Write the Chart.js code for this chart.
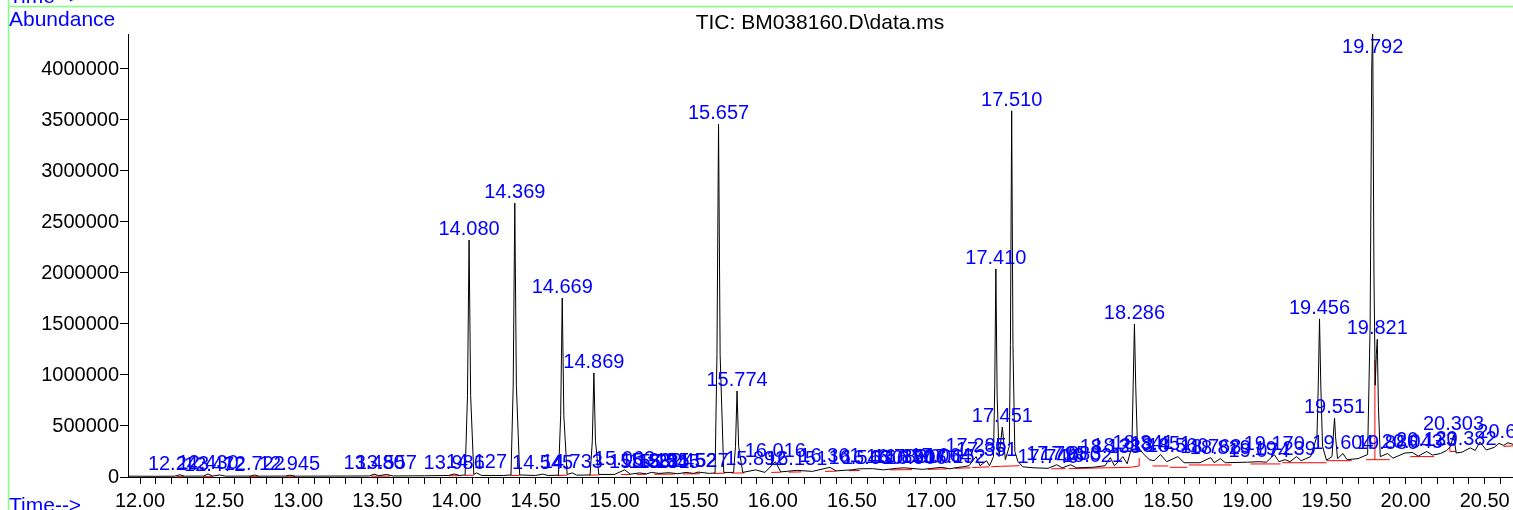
<!DOCTYPE html>
<html>
<head>
<meta charset="utf-8">
<script src="https://cdn.jsdelivr.net/npm/chart.js@4/dist/chart.umd.min.js"></script>
<style>
html,body{margin:0;padding:0;background:#fff;}
#wrap{width:1513px;height:510px;position:relative;overflow:hidden;}
</style>
</head>
<body>
<div id="wrap"><canvas id="c" width="1513" height="510"></canvas></div>
<script>
// ---- chromatogram trace (retention time, abundance) ----
const rt = [
11.924,12.10,12.22,12.252,12.28,12.40,12.430,12.46,12.504,12.54,
12.70,12.722,12.75,12.92,12.945,12.98,13.20,13.45,13.480,13.51,
13.557,13.60,13.80,13.95,13.986,14.02,14.055,14.070,14.080,14.090,
14.110,14.127,14.16,14.30,14.345,14.359,14.369,14.379,14.40,14.50,
14.545,14.58,14.645,14.659,14.669,14.679,14.70,14.733,14.76,14.845,
14.859,14.869,14.879,14.90,15.00,15.063,15.10,15.158,15.20,15.232,
15.281,15.345,15.40,15.452,15.50,15.527,15.60,15.635,15.647,15.657,
15.667,15.69,15.752,15.764,15.774,15.784,15.81,15.892,15.95,16.016,
16.05,16.151,16.25,16.361,16.40,16.50,16.546,16.63,16.70,16.783,
16.83,16.906,16.95,17.006,17.064,17.12,17.152,17.20,17.24,17.285,
17.31,17.351,17.37,17.395,17.403,17.410,17.418,17.43,17.451,17.47,
17.495,17.502,17.510,17.518,17.53,17.55,17.58,17.65,17.74,17.795,
17.83,17.883,17.92,18.021,18.10,18.133,18.16,18.213,18.24,18.270,
18.278,18.286,18.294,18.305,18.341,18.38,18.41,18.451,18.49,18.560,
18.60,18.70,18.768,18.79,18.829,18.86,19.00,19.074,19.12,19.170,
19.20,19.239,19.27,19.31,19.34,19.40,19.440,19.448,19.456,19.464,
19.475,19.50,19.535,19.545,19.551,19.557,19.57,19.604,19.63,19.70,
19.76,19.776,19.786,19.792,19.800,19.808,19.815,19.821,19.828,19.84,
19.886,19.92,19.996,20.043,20.08,20.133,20.17,20.22,20.26,20.285,
20.303,20.32,20.36,20.382,20.41,20.44,20.47,20.51,20.56,20.59,
20.62,20.647,20.679
];
const abundance = [
8000,7000,8000,22000,8000,9000,30000,9000,20000,8000,
9000,20000,8000,9000,18000,8000,9000,10000,28000,12000,
25000,10000,12000,15000,30000,15000,20000,800000,2323000,800000,
25000,40000,15000,15000,20000,900000,2686000,900000,20000,15000,
28000,15000,18000,600000,1755000,600000,25000,40000,18000,20000,
350000,1020000,350000,25000,25000,70000,28000,40000,30000,45000,
35000,42000,32000,45000,35000,48000,35000,40000,1200000,3460000,
1200000,45000,45000,300000,843000,300000,45000,70000,45000,150000,
50000,65000,55000,95000,60000,70000,80000,82000,70000,85000,
90000,80000,75000,85000,95000,80000,90000,100000,110000,200000,
110000,160000,110000,200000,900000,2040000,800000,200000,490000,170000,
300000,1300000,3590000,1300000,250000,150000,100000,90000,85000,120000,
90000,120000,90000,95000,110000,190000,110000,200000,130000,300000,
900000,1500000,900000,300000,230000,170000,160000,220000,150000,200000,
140000,140000,190000,140000,180000,140000,145000,150000,145000,220000,
150000,170000,150000,200000,160000,200000,400000,900000,1550000,900000,
300000,165000,200000,450000,578000,400000,180000,230000,170000,180000,
220000,1500000,4000000,4450000,2000000,900000,1200000,1350000,700000,200000,
230000,185000,235000,240000,205000,250000,215000,230000,260000,300000,
412000,235000,245000,265000,285000,260000,343000,265000,290000,330000,
310000,335000,320000
];

// ---- integration baselines (red) ----
const baseStartRt = [12.23,12.40,12.69,12.92,13.46,13.95,14.055,14.34,14.64,14.84,15.04,15.14,15.25,15.43,15.63,15.74,15.99,16.10,16.33,16.48,16.74,16.98,17.15,17.26,17.38,17.44,17.76,17.87,18.26,18.316,18.40,18.51,18.63,19.02,19.22,19.50,19.75,19.806,20.03,20.28,20.28,20.62];
const baseStartAb = [6000,6000,6000,7000,8000,12000,15000,14000,14000,18000,24000,26000,27000,30000,34000,38000,45000,48000,55000,62000,70000,75000,85000,92000,100000,105000,80000,82000,95000,108000,108000,95000,118000,128000,140000,160000,170000,170000,200000,250000,250000,300000];
const baseEndRt = [12.28,12.46,12.75,12.98,13.58,14.02,14.11,14.40,14.70,14.90,15.10,15.20,15.38,15.54,15.70,15.82,16.05,16.18,16.40,16.55,16.88,17.10,17.25,17.37,17.44,17.56,17.85,18.26,18.316,18.316,18.50,18.62,18.90,19.21,19.50,19.66,19.90,19.806,20.18,20.32,20.28,20.68];
const baseEndAb = [6000,6000,6000,7000,9000,13000,18000,16000,18000,20000,25000,27000,29000,32000,38000,40000,47000,50000,57000,64000,72000,80000,90000,100000,105000,110000,82000,95000,108000,186000,108000,95000,118000,128000,140000,160000,170000,1147000,200000,250000,333000,305000];

// ---- peak labels (retention time text) and apex abundance ----
const peakLabels = ["12.243","12.430","12.472","12.722","12.945","13.480","13.557","13.986","14.080","14.127","14.369","14.545","14.669","14.733","14.869","15.063","15.158","15.232","15.281","15.345","15.452","15.527","15.657","15.774","15.892","16.016","16.151","16.361","16.546","16.630","16.783","16.830","16.906","17.006","17.064","17.152","17.285","17.351","17.410","17.451","17.510","17.740","17.795","17.883","18.021","18.133","18.213","18.286","18.341","18.451","18.560","18.768","18.829","19.074","19.170","19.239","19.456","19.551","19.604","19.792","19.821","19.886","20.043","20.133","20.303","20.382","20.647"];
const labelHeights = [22000,30000,12000,20000,18000,28000,25000,30000,2323000,40000,2686000,28000,1755000,40000,1020000,70000,40000,45000,35000,42000,45000,48000,3460000,843000,70000,150000,65000,95000,80000,82000,85000,90000,80000,85000,95000,90000,200000,160000,2040000,490000,3590000,85000,120000,120000,95000,190000,200000,1500000,230000,220000,200000,190000,180000,150000,220000,170000,1550000,578000,230000,4450000,1350000,230000,240000,250000,412000,265000,335000];

// ---- axes ----
const xMin = 11.924, xMax = 20.679;
const yMin = 0, yMax = 4343000;
const xTickStart = 12.0, xTickEnd = 20.6, xTickStep = 0.1;
const yTickValues = [0,500000,1000000,1500000,2000000,2500000,3000000,3500000,4000000];
const titleText = "TIC: BM038160.D\\data.ms";
const yAxisTitle = "Abundance";
const xAxisTitle = "Time-->";

const FONT = "'Liberation Sans', Arial, sans-serif";
Chart.defaults.font.family = FONT;

const traceData = rt.map((t, i) => ({x: t, y: abundance[i]}));
const baseData = [];
baseStartRt.forEach((t, i) => {
  baseData.push({x: t, y: baseStartAb[i]});
  baseData.push({x: baseEndRt[i], y: baseEndAb[i]});
  baseData.push({x: baseEndRt[i], y: null});
});

const decor = {
  id: 'decor',
  beforeDraw(chart) {
    const ctx = chart.ctx;
    ctx.save();
    ctx.fillStyle = '#fff';
    ctx.fillRect(0, 0, chart.width, chart.height);
    ctx.strokeStyle = '#80ff80';
    ctx.lineWidth = 1.5;
    ctx.beginPath();
    ctx.moveTo(8.5, 6.5); ctx.lineTo(chart.width, 6.5);
    ctx.moveTo(8.5, 0); ctx.lineTo(8.5, chart.height);
    ctx.stroke();
    ctx.restore();
  },
  afterDatasetsDraw(chart) {
    const ctx = chart.ctx;
    const xs = chart.scales.x, ys = chart.scales.y, area = chart.chartArea;
    ctx.save();
    ctx.font = '20px ' + FONT;
    ctx.fillStyle = '#0000ff';
    ctx.textAlign = 'center';
    ctx.textBaseline = 'alphabetic';
    peakLabels.forEach((lab, i) => {
      const px = xs.getPixelForValue(parseFloat(lab));
      let py = ys.getPixelForValue(labelHeights[i]) - 5;
      if (py < area.top + 19) py = area.top + 19;
      ctx.fillText(lab, px, py);
    });
    ctx.restore();
  },
  afterDraw(chart) {
    const ctx = chart.ctx;
    ctx.save();
    ctx.font = '21px ' + FONT;
    ctx.fillStyle = '#0000ff';
    ctx.textAlign = 'left';
    ctx.textBaseline = 'alphabetic';
    ctx.fillText(xAxisTitle, 9, 2.5);
    ctx.fillText(yAxisTitle, 9, 26);
    ctx.fillText(xAxisTitle, 9, 511.5);
    ctx.fillStyle = '#000';
    ctx.font = '21px ' + FONT;
    ctx.textAlign = 'center';
    ctx.fillText(titleText, 820, 29);
    ctx.restore();
  }
};

new Chart(document.getElementById('c'), {
  type: 'line',
  data: {
    datasets: [
      {data: baseData, borderColor: '#ff0000', borderWidth: 1, pointRadius: 0, spanGaps: false, tension: 0, order: 2},
      {data: traceData, borderColor: '#000000', borderWidth: 1, pointRadius: 0, tension: 0, order: 1}
    ]
  },
  options: {
    responsive: false,
    animation: false,
    events: [],
    layout: {padding: {top: 34, left: 0, right: 0, bottom: 0}},
    plugins: {legend: {display: false}, tooltip: {enabled: false}, title: {display: false}},
    scales: {
      x: {
        type: 'linear', min: xMin, max: xMax,
        afterBuildTicks(s) {
          const t = [];
          for (let v = Math.round(xTickStart / xTickStep); v <= Math.round(xTickEnd / xTickStep); v++) t.push({value: v * xTickStep});
          s.ticks = t;
        },
        afterFit(s) { s.height = 33; },
        ticks: {
          autoSkip: false, maxRotation: 0, minRotation: 0, color: '#000', padding: 5,
          font: {size: 20, family: FONT},
          callback(v) { return Math.abs(v * 2 - Math.round(v * 2)) < 1e-6 ? Number(v).toFixed(2) : ''; }
        },
        grid: {drawOnChartArea: false, drawTicks: true, tickLength: 7, color: '#000', tickWidth: 1},
        border: {display: true, color: '#000', width: 1}
      },
      y: {
        type: 'linear', min: yMin, max: yMax,
        afterBuildTicks(s) { s.ticks = yTickValues.map(v => ({value: v})); },
        afterFit(s) { s.width = 128; },
        ticks: {
          color: '#000', padding: 1, font: {size: 20, family: FONT},
          callback(v) { return String(v); }
        },
        grid: {drawOnChartArea: false, drawTicks: true, tickLength: 8, color: '#000', tickWidth: 1},
        border: {display: true, color: '#000', width: 1}
      }
    }
  },
  plugins: [decor]
});
</script>
</body>
</html>
